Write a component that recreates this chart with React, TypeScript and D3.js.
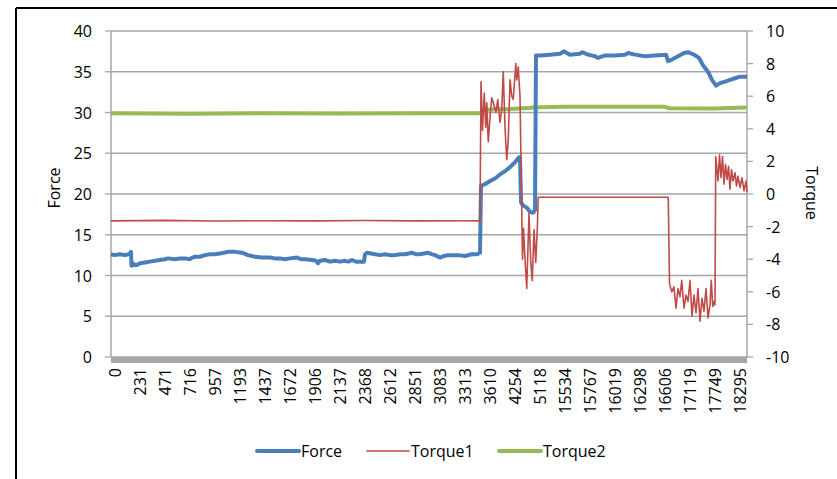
import * as d3 from 'd3';

// category labels shown on the x axis (one every 100 rows)
const xLabels = ['0', '231', '471', '716', '957', '1193', '1437', '1672', '1906', '2137', '2368', '2612', '2851',
  '3083', '3313', '3610', '4254', '5118', '15534', '15767', '16019', '16298', '16606', '17119', '17749', '18295'];
const ROWS_PER_LABEL = 100;

const forceTicks = [0, 5, 10, 15, 20, 25, 30, 35, 40];
const torqueTicks = [-10, -8, -6, -4, -2, 0, 2, 4, 6, 8, 10];

// [row, value]
const force: [number, number][] = [
  [-15, 12.6], [0, 12.5], [21, 12.6], [41, 12.5], [53, 12.6], [61, 12.7], [65, 12.9], [67, 11.2], [73, 11.5],
  [77, 11.3], [89, 11.3], [101, 11.5], [121, 11.6], [141, 11.7], [161, 11.8], [181, 11.9], [201, 12.0],
  [213, 12.1], [241, 12.0], [261, 12.1], [281, 12.1], [301, 12.0], [310, 12.2], [321, 12.3], [341, 12.3],
  [361, 12.5], [381, 12.6], [401, 12.6], [421, 12.7], [437, 12.8], [453, 12.9], [481, 12.9], [509, 12.8],
  [533, 12.5], [561, 12.3], [589, 12.2], [621, 12.2], [641, 12.1], [661, 12.1], [681, 12.0], [701, 12.1],
  [729, 12.2], [745, 12.0], [761, 12.0], [789, 11.9], [805, 11.8], [813, 11.5], [821, 11.8], [841, 11.9],
  [861, 11.7], [881, 11.8], [901, 11.7], [921, 11.8], [935, 11.7], [949, 11.9], [965, 11.7], [981, 11.7],
  [997, 11.7], [1001, 12.6], [1009, 12.8], [1025, 12.7], [1041, 12.6], [1061, 12.5], [1081, 12.6],
  [1101, 12.5], [1121, 12.5], [1141, 12.6], [1161, 12.6], [1189, 12.8], [1205, 12.6], [1221, 12.6],
  [1237, 12.7], [1253, 12.8], [1269, 12.6], [1281, 12.5], [1301, 12.2], [1317, 12.4], [1333, 12.5],
  [1353, 12.5], [1373, 12.5], [1401, 12.4], [1429, 12.6], [1449, 12.6], [1461, 12.8], [1465, 21.0],
  [1481, 21.2], [1501, 21.6], [1521, 21.9], [1541, 22.4], [1561, 22.8], [1581, 23.3], [1601, 23.9],
  [1617, 24.5], [1621, 24.5], [1625, 19.0], [1633, 18.6], [1649, 18.3], [1661, 17.8], [1673, 17.7],
  [1681, 18.0], [1685, 37.0], [1701, 37.0], [1741, 37.1], [1781, 37.2], [1797, 37.5], [1821, 37.1],
  [1861, 37.2], [1869, 37.4], [1893, 37.1], [1921, 36.9], [1933, 36.7], [1961, 37.0], [2001, 37.0],
  [2041, 37.1], [2053, 37.3], [2081, 37.1], [2121, 36.9], [2161, 37.0], [2205, 37.1], [2213, 36.3],
  [2229, 36.5], [2253, 36.9], [2277, 37.3], [2293, 37.4], [2317, 37.1], [2337, 36.7], [2353, 35.8],
  [2373, 35.0], [2389, 34.0], [2405, 33.3], [2421, 33.6], [2441, 33.8], [2461, 34.0], [2481, 34.2],
  [2501, 34.4], [2529, 34.4],
];

const torque1: [number, number][] = [
  [-15, -1.65], [200, -1.62], [400, -1.66], [600, -1.64], [800, -1.65], [1000, -1.63], [1200, -1.65],
  [1400, -1.64], [1461, -1.65], [1465, 6.9], [1471, 3.9], [1478, 6.2], [1484, 4.1], [1488, 5.6], [1494, 3.2],
  [1501, 4.7], [1508, 5.9], [1514, 5.6], [1525, 5.0], [1532, 5.8], [1541, 4.4], [1548, 5.2], [1554, 7.5],
  [1561, 4.1], [1568, 2.1], [1574, 3.3], [1581, 7.0], [1588, 6.0], [1594, 5.8], [1604, 8.0], [1608, 7.0],
  [1614, 7.8], [1621, 6.0], [1631, -4.0], [1635, -2.1], [1641, -4.0], [1648, -5.8], [1657, -1.2],
  [1664, -4.2], [1670, -5.3], [1677, -2.2], [1684, -4.2], [1690, -2.2], [1694, -0.2], [1900, -0.2],
  [2100, -0.2], [2214, -0.2], [2219, -5.5], [2228, -6.0], [2237, -5.7], [2245, -7.0], [2253, -5.8],
  [2261, -6.3], [2268, -5.3], [2277, -7.0], [2285, -6.2], [2293, -6.6], [2301, -5.3], [2309, -7.5],
  [2317, -6.2], [2325, -7.3], [2333, -5.8], [2341, -7.8], [2349, -6.4], [2357, -7.2], [2365, -5.8],
  [2373, -7.6], [2381, -6.8], [2386, -5.3], [2392, -6.9], [2397, -6.6], [2401, -6.8], [2404, 2.3],
  [2413, 0.8], [2419, 2.4], [2425, 1.0], [2431, 2.3], [2437, 0.6], [2443, 1.8], [2449, 0.9], [2455, 1.7],
  [2461, 0.3], [2467, 1.5], [2473, 0.8], [2481, 1.3], [2487, 0.5], [2493, 1.1], [2501, 0.4], [2509, 1.0],
  [2517, 0.2], [2525, 0.8], [2529, 0.1],
];

const torque2: [number, number][] = [
  [-15, 4.95], [300, 4.93], [600, 4.96], [900, 4.94], [1200, 4.95], [1461, 4.95], [1475, 5.15], [1520, 5.2],
  [1580, 5.22], [1650, 5.28], [1700, 5.32], [1800, 5.35], [2000, 5.36], [2200, 5.35], [2220, 5.26],
  [2400, 5.25], [2529, 5.3],
];

const FONT = '"Open Sans", sans-serif';
const GRID = '#a6a6a6';
const BLUE = '#4a7ebb';
const RED = '#be4b48';
const GREEN = '#98b954';

export default function App() {
  const width = 837;
  const height = 479;
  const left = 111;
  const right = 747;
  const top = 31;
  const bottom = 357;

  const x = d3.scaleLinear().domain([-15, 2529]).range([left, right]);
  const yForce = d3.scaleLinear().domain([0, 40]).range([bottom, top]);
  const yTorque = d3.scaleLinear().domain([-10, 10]).range([bottom, top]);

  const forceLine = d3.line<[number, number]>().x(d => x(d[0])).y(d => yForce(d[1]));
  const torqueLine = d3.line<[number, number]>().x(d => x(d[0])).y(d => yTorque(d[1]));

  const legend = [
    { name: 'Force', color: BLUE, w: 4, x0: 257 },
    { name: 'Torque1', color: RED, w: 1.6, x0: 367 },
    { name: 'Torque2', color: GREEN, w: 4, x0: 499 },
  ];

  return (
    <div style={{ position: 'absolute', left: 0, top: 0 }}>
      <svg width={width} height={height} style={{ display: 'block', background: '#fff' }} fontFamily={FONT}>
        {/* outer frame (cropped) */}
        <line x1={16} y1={8} x2={width} y2={8} stroke="#000" strokeWidth={2} />
        <line x1={16} y1={8} x2={16} y2={height} stroke="#000" strokeWidth={2} />

        {/* gridlines + left ticks */}
        {forceTicks.map(t => (
          <g key={'f' + t}>
            <line x1={left} x2={right} y1={yForce(t)} y2={yForce(t)} stroke={GRID} strokeWidth={1.3} />
            <line x1={left - 6} x2={left} y1={yForce(t)} y2={yForce(t)} stroke={GRID} strokeWidth={1.3} />
            <text x={92} y={yForce(t)} textAnchor="end" dominantBaseline="central" fontSize={16} fill="#000">
              {t}
            </text>
          </g>
        ))}
        {torqueTicks.map(t => (
          <g key={'t' + t}>
            <line x1={right} x2={right + 6} y1={yTorque(t)} y2={yTorque(t)} stroke={GRID} strokeWidth={1.3} />
            <text x={766} y={yTorque(t)} textAnchor="start" dominantBaseline="central" fontSize={16} fill="#000">
              {t}
            </text>
          </g>
        ))}
        <line x1={left} x2={left} y1={top} y2={bottom} stroke={GRID} strokeWidth={1.5} />
        <line x1={right} x2={right} y1={top} y2={bottom} stroke={GRID} strokeWidth={1.5} />

        {/* series */}
        <path d={torqueLine(torque2) ?? ''} fill="none" stroke={GREEN} strokeWidth={4} strokeLinejoin="round" />
        <path d={forceLine(force) ?? ''} fill="none" stroke={BLUE} strokeWidth={4} strokeLinejoin="round" />
        <path d={torqueLine(torque1) ?? ''} fill="none" stroke={RED} strokeWidth={1.6} strokeLinejoin="round" />

        {/* category axis bar */}
        <rect x={left} y={bottom} width={right - left} height={6} fill="#a6a6a6" />

        {/* x labels */}
        {xLabels.map((lab, i) => (
          <text
            key={lab}
            transform={`translate(${x(i * ROWS_PER_LABEL)},368) rotate(-90)`}
            textAnchor="end"
            dominantBaseline="central"
            fontSize={16}
            fill="#000"
          >
            {lab}
          </text>
        ))}

        {/* axis titles */}
        <text transform="translate(54,188) rotate(-90)" textAnchor="middle" dominantBaseline="central" fontSize={16}>
          Force
        </text>
        <text transform="translate(812,193) rotate(90)" textAnchor="middle" dominantBaseline="central" fontSize={16}>
          Torque
        </text>

        {/* legend */}
        {legend.map(l => (
          <g key={l.name}>
            <line x1={l.x0} x2={l.x0 + 42} y1={451} y2={451} stroke={l.color} strokeWidth={l.w} strokeLinecap="round" />
            <text x={l.x0 + 44} y={451} dominantBaseline="central" fontSize={16} fill="#000">
              {l.name}
            </text>
          </g>
        ))}
      </svg>
    </div>
  );
}
